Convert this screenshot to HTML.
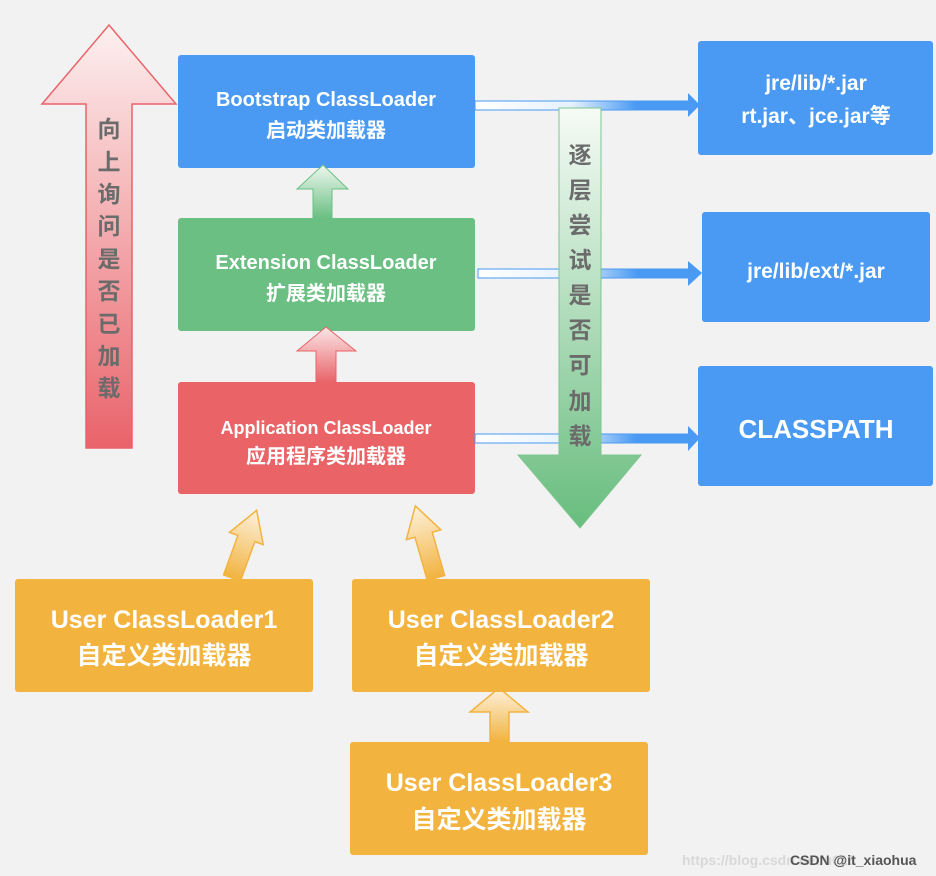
<!DOCTYPE html>
<html><head><meta charset="utf-8"><style>
html,body{margin:0;padding:0;background:#f2f2f2;}
svg{display:block}
text{font-family:"Liberation Sans","Noto Sans CJK SC",sans-serif;font-weight:bold;}
</style></head><body>
<svg width="936" height="876" viewBox="0 0 936 876" xmlns="http://www.w3.org/2000/svg">
<defs>
<linearGradient id="redUp" x1="0" y1="0" x2="0" y2="1"><stop offset="0" stop-color="#fdf0f0"/><stop offset="1" stop-color="#e9636a"/></linearGradient>
<linearGradient id="greenDown" x1="0" y1="0" x2="0" y2="1"><stop offset="0" stop-color="#f6fbf6"/><stop offset="1" stop-color="#68bd7e"/></linearGradient>
<linearGradient id="greenUp" x1="0" y1="0" x2="0" y2="1"><stop offset="0" stop-color="#eef8ef"/><stop offset="1" stop-color="#6bbf83"/></linearGradient>
<linearGradient id="redSmall" x1="0" y1="0" x2="0" y2="1"><stop offset="0" stop-color="#fbe7e7"/><stop offset="1" stop-color="#e9646a"/></linearGradient>
<linearGradient id="orangeUp" x1="0" y1="0" x2="0" y2="1"><stop offset="0" stop-color="#fdf1dc"/><stop offset="1" stop-color="#f2b33f"/></linearGradient>
<linearGradient id="blueR" x1="0" y1="0" x2="1" y2="0"><stop offset="0" stop-color="#ffffff"/><stop offset="0.45" stop-color="#e6f1fd"/><stop offset="0.75" stop-color="#4a9af3"/><stop offset="1" stop-color="#4a9af3"/></linearGradient>
</defs>

<!-- big red up arrow -->
<polygon points="109,25 176,104 132,104 132,448 86,448 86,104 42,104" fill="url(#redUp)" stroke="#e9636a" stroke-width="1.5"/>
<g fill="#6b6b6b" font-size="23" text-anchor="middle">
<text x="109" y="137">向</text><text x="109" y="170">上</text><text x="109" y="202">询</text><text x="109" y="234">问</text><text x="109" y="267">是</text><text x="109" y="299">否</text><text x="109" y="332">已</text><text x="109" y="364">加</text><text x="109" y="396">载</text>
</g>

<!-- main boxes -->
<rect x="178" y="55" width="297" height="113" rx="3" fill="#4a9af3"/>
<rect x="178" y="218" width="297" height="113" rx="3" fill="#6bbf83"/>
<rect x="178" y="382" width="297" height="112" rx="3" fill="#ea6367"/>
<g fill="#fff" text-anchor="middle">
<text x="326" y="106" font-size="20">Bootstrap ClassLoader</text>
<text x="326" y="137" font-size="20">启动类加载器</text>
<text x="326" y="269" font-size="20">Extension ClassLoader</text>
<text x="326" y="300" font-size="20">扩展类加载器</text>
<text x="326" y="434" font-size="18">Application ClassLoader</text>
<text x="326" y="463" font-size="20">应用程序类加载器</text>
</g>

<!-- small up arrows -->
<polygon points="323,165 348,189 332,189 332,218 313,218 313,189 297,189" fill="url(#greenUp)" stroke="#6bbf83" stroke-width="1"/>
<polygon points="326,327 356,351 336,351 336,382 316,382 316,351 297,351" fill="url(#redSmall)" stroke="#e9646a" stroke-width="1"/>

<!-- connectors -->
<g>
<rect x="475" y="101" width="215" height="9" fill="url(#blueR)" stroke="#4a9af3" stroke-width="1"/>
<polygon points="688,93 700,105 688,117" fill="#4a9af3"/>
<rect x="478" y="269" width="212" height="9" fill="url(#blueR)" stroke="#4a9af3" stroke-width="1"/>
<polygon points="688,261 702,273 688,286" fill="#4a9af3"/>
<rect x="475" y="434" width="215" height="9" fill="url(#blueR)" stroke="#4a9af3" stroke-width="1"/>
<polygon points="688,426 700,438 688,451" fill="#4a9af3"/>
</g>

<!-- green down arrow -->
<polygon points="559,108 601,108 601,455 641,455 580,528 518,455 559,455" fill="url(#greenDown)" stroke="#7cc68f" stroke-width="1"/>
<g fill="#6b6b6b" font-size="23" text-anchor="middle">
<text x="580" y="163">逐</text><text x="580" y="198">层</text><text x="580" y="233">尝</text><text x="580" y="268">试</text><text x="580" y="303">是</text><text x="580" y="338">否</text><text x="580" y="373">可</text><text x="580" y="409">加</text><text x="580" y="444">载</text>
</g>

<!-- right boxes -->
<rect x="698" y="41" width="235" height="114" rx="3" fill="#4a9af3"/>
<rect x="702" y="212" width="228" height="110" rx="3" fill="#4a9af3"/>
<rect x="698" y="366" width="235" height="120" rx="3" fill="#4a9af3"/>
<g fill="#fff" text-anchor="middle" font-size="21">
<text x="816" y="90">jre/lib/*.jar</text>
<text x="816" y="123">rt.jar、jce.jar等</text>
<text x="816" y="278">jre/lib/ext/*.jar</text>
<text x="816" y="438" font-size="26">CLASSPATH</text>
</g>

<!-- orange arrows -->
<polygon points="245,510 256,583 248,565 232,578 221,578 212,570 232,539 221,535" fill="none"/>
<g transform="translate(232,578) rotate(20)">
<polygon points="0,-72 -18,-42 -9,-42 -9,0 9,0 9,-42 18,-42" fill="url(#orangeUp)" stroke="#f2b33f" stroke-width="1.5"/>
</g>
<g transform="translate(436,578) rotate(-16)">
<polygon points="0,-75 -18,-45 -9,-45 -9,0 9,0 9,-45 18,-45" fill="url(#orangeUp)" stroke="#f2b33f" stroke-width="1.5"/>
</g>
<polygon points="499,688 528,712 509,712 509,742 490,742 490,712 470,712" fill="url(#orangeUp)" stroke="#f2b33f" stroke-width="1.5"/>

<!-- user boxes -->
<rect x="15" y="579" width="298" height="113" rx="3" fill="#f2b33f"/>
<rect x="352" y="579" width="298" height="113" rx="3" fill="#f2b33f"/>
<rect x="350" y="742" width="298" height="113" rx="3" fill="#f2b33f"/>
<g fill="#fff" text-anchor="middle" font-size="25">
<text x="164" y="628">User ClassLoader1</text>
<text x="164" y="664">自定义类加载器</text>
<text x="501" y="628">User ClassLoader2</text>
<text x="501" y="664">自定义类加载器</text>
<text x="499" y="791">User ClassLoader3</text>
<text x="499" y="828">自定义类加载器</text>
</g>

<!-- watermark -->
<text x="682" y="865" font-size="14" font-weight="normal" fill="#d8d8d8">https://blog.csdn.net/u013</text>
<text x="790" y="865" font-size="14" font-weight="normal" fill="#555">CSDN @it_xiaohua</text>
</svg>
</body></html>
